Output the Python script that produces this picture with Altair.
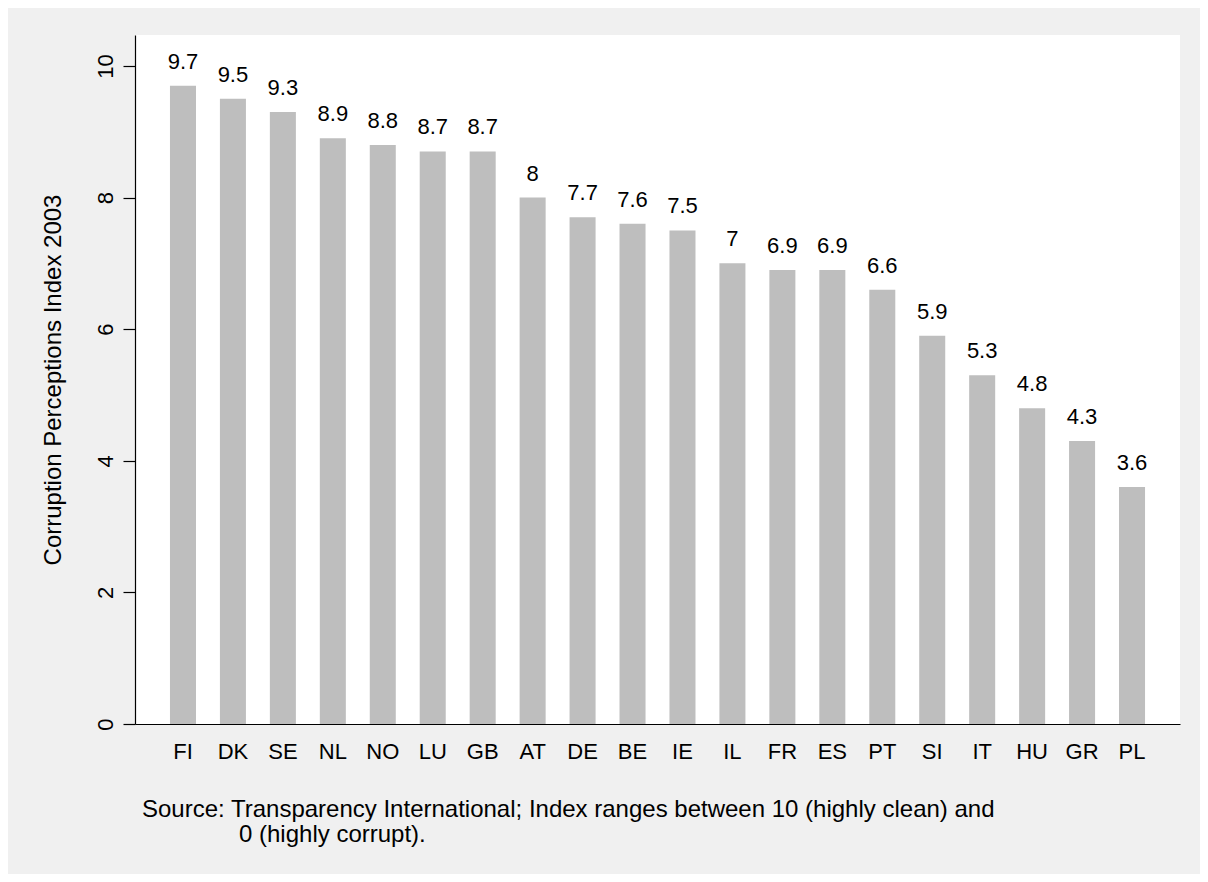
import altair as alt
import pandas as pd

countries = ["FI", "DK", "SE", "NL", "NO", "LU", "GB", "AT", "DE", "BE",
             "IE", "IL", "FR", "ES", "PT", "SI", "IT", "HU", "GR", "PL"]
cpi = [9.7, 9.5, 9.3, 8.9, 8.8, 8.7, 8.7, 8.0, 7.7, 7.6,
       7.5, 7.0, 6.9, 6.9, 6.6, 5.9, 5.3, 4.8, 4.3, 3.6]
y_ticks = [0, 2, 4, 6, 8, 10]
note_lines = ["Source: Transparency International; Index ranges between 10 (highly clean) and",
              "0 (highly corrupt)."]

df = pd.DataFrame({"country": countries, "cpi": cpi,
                   "label": [f"{v:g}" for v in cpi]})

FONT = "Liberation Sans"
W, H = 1045, 689

xenc = alt.X("country:N", sort=countries,
             scale=alt.Scale(paddingInner=0.479, paddingOuter=0.70),
             axis=alt.Axis(title=None, labelAngle=0, ticks=False, labelPadding=17,
                           labelBaseline="top", labelFontSize=22, labelFont=FONT,
                           labelColor="black", domainColor="black", domainWidth=1.2,
                           grid=False))
yscale = alt.Scale(domain=[0, 10.47], nice=False, zero=True)

bars = alt.Chart(df).mark_bar(color="#bebebe").encode(
    x=xenc,
    y=alt.Y("cpi:Q", scale=yscale,
            axis=alt.Axis(values=y_ticks, format="d", grid=False, tickSize=12,
                          tickColor="black", tickWidth=1.2, domainColor="black",
                          domainWidth=1.2,
                          labelAngle=270, labelAlign="center", labelBaseline="alphabetic",
                          labelPadding=11, labelFontSize=22, labelFont=FONT,
                          labelColor="black",
                          title="Corruption Perceptions Index 2003",
                          titleFont=FONT, titleFontSize=24, titleFontWeight="normal",
                          titleColor="black", titleAngle=270, titleAlign="center",
                          titleBaseline="alphabetic", titleX=-75, titleY=H / 2)),
)

labels = alt.Chart(df).mark_text(baseline="alphabetic", dy=-17, fontSize=22,
                                 font=FONT, color="black").encode(
    x=alt.X("country:N", sort=countries),
    y=alt.Y("cpi:Q", scale=yscale),
    text="label:N",
)

note_df = pd.DataFrame({"line": note_lines, "px": [7, 104], "py": [782, 807]})
note = alt.Chart(note_df).mark_text(align="left", baseline="alphabetic", fontSize=24,
                                    font=FONT, color="black").encode(
    x=alt.X("px:Q", scale=None),
    y=alt.Y("py:Q", scale=None),
    text="line:N",
)

chart = alt.layer(bars, labels, note).properties(
    width=W, height=H,
    autosize=alt.AutoSizeParams(type="none"),
    padding={"left": 127, "top": 27, "right": 20, "bottom": 150},
    background="#f0f0f0",
).configure_view(fill="white", stroke=None)

chart.save("out.html", embed_options={"renderer": "svg", "actions": False})
